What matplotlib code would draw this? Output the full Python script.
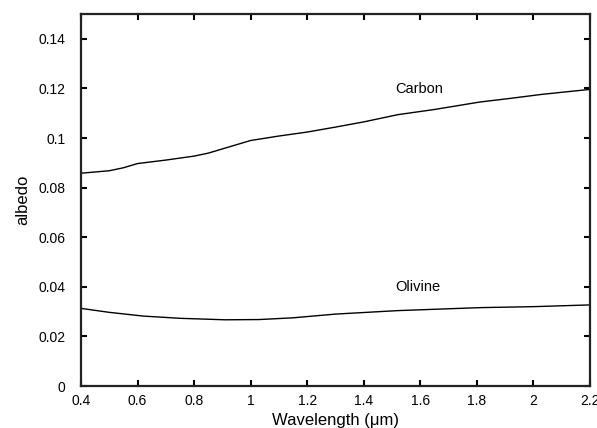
import numpy as np
import matplotlib
matplotlib.use("Agg")
from matplotlib import pyplot as plt
from matplotlib.ticker import FuncFormatter

plt.rcParams['font.family'] = ['Liberation Sans', 'DejaVu Sans']

# values
carbon_x = [0.40, 0.50, 0.55, 0.60, 0.70, 0.80, 0.85, 0.90, 1.00, 1.10, 1.20,
            1.30, 1.40, 1.52, 1.65, 1.81, 1.92, 2.03, 2.20]
carbon_y = [0.0858, 0.0868, 0.0880, 0.0897, 0.0911, 0.0927, 0.0939, 0.0956, 0.0990,
            0.1008, 0.1024, 0.1044, 0.1065, 0.1094, 0.1115, 0.1145, 0.1160, 0.1176, 0.1196]
olivine_x = [0.40, 0.50, 0.62, 0.75, 0.91, 1.03, 1.15, 1.30, 1.52, 1.81, 2.00, 2.20]
olivine_y = [0.0313, 0.0297, 0.0282, 0.0273, 0.0267, 0.0268, 0.0275, 0.0290, 0.0304,
             0.0316, 0.0320, 0.0327]

fmt = FuncFormatter(lambda v, p: "%g" % round(v, 4))

fig = plt.figure(figsize=(5.97, 4.28), dpi=100)
ax = fig.add_axes([0.1357, 0.0981, 0.8526, 0.8692])

ax.plot(carbon_x, carbon_y, color="black", lw=1.0)
ax.plot(olivine_x, olivine_y, color="black", lw=1.0)
ax.text(1.51, 0.1197, "Carbon", fontsize=10.5, va="center", ha="left")
ax.text(1.51, 0.0399, "Olivine", fontsize=10.5, va="center", ha="left")

ax.set_xlim(0.4, 2.2)
ax.set_ylim(0, 0.15)
ax.set_xticks(np.arange(0.4, 2.21, 0.2))
ax.set_yticks(np.arange(0, 0.141, 0.02))
ax.xaxis.set_major_formatter(fmt)
ax.yaxis.set_major_formatter(fmt)
ax.tick_params(direction="in", top=True, right=True, length=4, width=1.5,
               labelsize=10)
ax.tick_params(axis="x", pad=6)
ax.tick_params(axis="y", pad=11)
for s in ax.spines.values():
    s.set_linewidth(1.6)
    s.set_color("#222222")

ax.set_xlabel("Wavelength (\u03bcm)", fontsize=12, labelpad=3)
ax.set_ylabel("albedo", fontsize=12, labelpad=6)

fig.savefig("out.png", dpi=100)
